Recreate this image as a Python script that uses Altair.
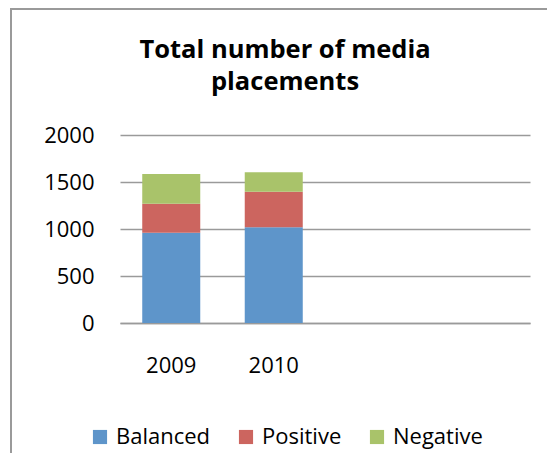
import altair as alt
import pandas as pd

years = ["2009", "2010"]
slots = ["2009", "2010", "s3", "s4"]
series = ["Balanced", "Positive", "Negative"]
balanced = [960, 1018]
positive = [309, 379]
negative = [316, 206]
colors = ["#5E95CA", "#CC655F", "#A9C36A"]
y_ticks = [0, 500, 1000, 1500, 2000]

rows = []
for i, y in enumerate(years):
    for k, (s, vals) in enumerate(zip(series, [balanced, positive, negative])):
        rows.append({"year": y, "series": s, "value": vals[i], "ord": k})
df = pd.DataFrame(rows)

FONT = "Open Sans"

bars = alt.Chart(df).mark_bar().encode(
    x=alt.X("year:N",
            scale=alt.Scale(domain=slots, paddingInner=0.434, paddingOuter=0.217),
            axis=alt.Axis(title=None, ticks=False, domain=True, domainColor="#9a9a9a",
                          domainWidth=1.5, labelAngle=0, labelFontSize=22,
                          labelFont=FONT, labelColor="#000000", labelPadding=32,
                          grid=False,
                          labelExpr="(datum.value == 's3' || datum.value == 's4') ? '' : datum.label")),
    y=alt.Y("value:Q", stack="zero",
            scale=alt.Scale(domain=[0, 2000], nice=False),
            axis=alt.Axis(title=None, values=y_ticks, ticks=False, domain=False, format="d",
                          gridColor="#9a9a9a", gridWidth=1.5, labelFontSize=22,
                          labelFont=FONT, labelColor="#000000", labelPadding=26)),
    color=alt.Color("series:N", scale=alt.Scale(domain=series, range=colors),
                    legend=alt.Legend(title=None, orient="none", legendX=-31, legendY=291,
                                      direction="horizontal", symbolType="square",
                                      symbolSize=200, symbolStrokeWidth=0,
                                      labelFontSize=22, labelFont=FONT,
                                      labelColor="#000000", columnPadding=24,
                                      labelOffset=5)),
    order=alt.Order("ord:Q"),
)

frame = alt.Chart(pd.DataFrame({"a": [0]})).mark_rect(
    fill=None, stroke="#9a9a9a", strokeWidth=2
).encode(
    x=alt.value(-109), x2=alt.value(460), y=alt.value(-126), y2=alt.value(360)
)

chart = alt.layer(frame, bars).properties(
    width=410, height=188,
    autosize=alt.AutoSizeParams(type="none"),
    padding={"left": 112, "top": 127, "right": 17, "bottom": 130},
    title=alt.Title(["Total number of media", "placements"], fontSize=25.5,
                    font=FONT, fontWeight="bold", color="#000000",
                    anchor="middle", dx=-40, dy=87, offset=0, lineHeight=32),
).configure_view(stroke=None)

chart.save("out.html", embed_options={"renderer": "svg", "actions": False})
